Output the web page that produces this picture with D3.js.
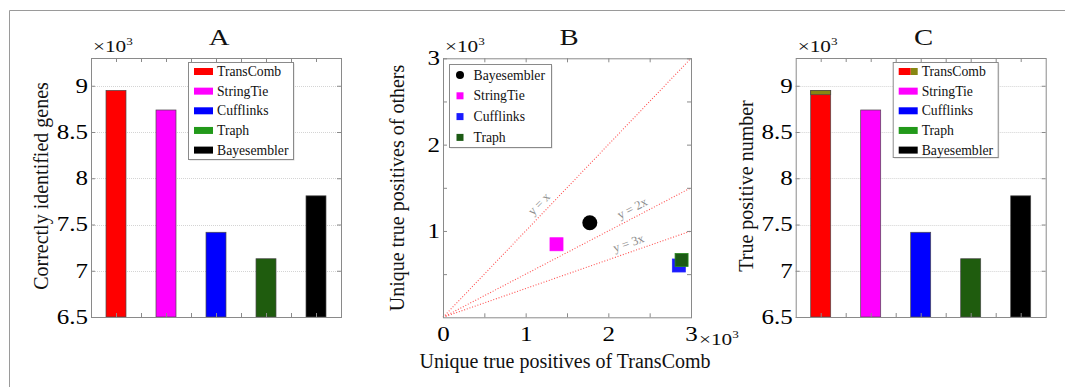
<!DOCTYPE html>
<html>
<head>
<meta charset="utf-8">
<script src="https://cdn.jsdelivr.net/npm/d3@7"></script>
<style>
  body { margin: 0; background: #fff; }
  svg { display: block; font-family: "Liberation Serif", "Times New Roman", serif; }
  svg text { font-family: "Liberation Serif", "Times New Roman", serif; }
</style>
</head>
<body>
<svg id="chart" width="1065" height="387"></svg>
<script>
// values in thousands (axes are x10^3)
var methods = ["TransComb", "StringTie", "Cufflinks", "Traph", "Bayesembler"];
var genesIdentified = [8.95, 8.738, 7.416, 7.13, 7.81];
var truePositives = [8.95, 8.738, 7.416, 7.13, 7.81];
var transCombBase = 8.903; // red part of the TransComb bar in C, rest is olive

var others = ["Bayesembler", "StringTie", "Cufflinks", "Traph"];
var uniqueTransComb = [1.776, 1.373, 2.853, 2.886];
var uniqueOthers = [1.096, 0.846, 0.60, 0.664];
var refRatios = [1, 2, 3];
var refLabels = ["y = x", "y = 2x", "y = 3x"];

var barYTicks = [6.5, 7, 7.5, 8, 8.5, 9];

var barColor = {TransComb: "#ff0000", StringTie: "#ff00ff", Cufflinks: "#0000ff", Traph: "#1f5c0e", Bayesembler: "#000000"};
var legColor = {TransComb: "#ff0000", StringTie: "#ff00ff", Cufflinks: "#0000ff", Traph: "#22991a", Bayesembler: "#000000"};
var ptColor = {Bayesembler: "#000000", StringTie: "#ff00ff", Cufflinks: "#1a1aff", Traph: "#1b5a14"};
var olive = "#878712";
var SX = 1.25; // the tick digits in the figure are wide

var svg = d3.select("#chart");

// outer frame (only top and left show)
svg.append("line").attr("x1", 9.5).attr("y1", 10.5).attr("x2", 1065).attr("y2", 10.5).attr("stroke", "#9a9a9a");
svg.append("line").attr("x1", 9.5).attr("y1", 10.5).attr("x2", 9.5).attr("y2", 387).attr("stroke", "#9a9a9a");

function wideText(g, x, y, size) {
  return g.append("text")
    .attr("transform", "translate(" + x + "," + y + ") scale(" + SX + ",1)")
    .attr("font-size", size);
}

function times10(g, x, y) {
  var t = wideText(g, x, y, 17).attr("fill", "#111");
  t.append("tspan").text("\u00d710");
  t.append("tspan").attr("font-size", 10.5).attr("dy", -7).text("3");
}

function stretchTicks(ax) {
  ax.selectAll(".tick text").each(function() {
    var t = d3.select(this);
    var x = +t.attr("x") || 0;
    var y = +t.attr("y") || 0;
    t.attr("x", null).attr("y", null)
     .attr("transform", "translate(" + x + "," + y + ") scale(" + SX + ",1)");
  });
}

function frameAxes(g, x, y, xt, yt, showX, showY) {
  var w = x.range()[1] - x.range()[0];
  var h = y.range()[0] - y.range()[1];
  var bot = g.append("g").attr("transform", "translate(0," + y.range()[0] + ")")
    .call(d3.axisBottom(x).tickValues(xt).tickSizeInner(-4).tickSizeOuter(0).tickPadding(9)
      .tickFormat(showX ? function(d) { return Number.isInteger(d) ? d : ""; } : function() { return ""; }));
  var top = g.append("g").attr("transform", "translate(0," + y.range()[1] + ")")
    .call(d3.axisTop(x).tickValues(xt).tickSizeInner(-4).tickSizeOuter(0).tickFormat(""));
  var left = g.append("g").attr("transform", "translate(" + x.range()[0] + ",0)")
    .call(d3.axisLeft(y).tickValues(yt).tickSizeInner(-4).tickSizeOuter(0).tickPadding(3)
      .tickFormat(showY));
  var right = g.append("g").attr("transform", "translate(" + x.range()[1] + ",0)")
    .call(d3.axisRight(y).tickValues(yt).tickSizeInner(-4).tickSizeOuter(0).tickFormat(""));
  [bot, top, left, right].forEach(function(a) {
    a.attr("font-family", null).attr("font-size", null);
    a.select(".domain").remove();
    a.selectAll(".tick line").attr("stroke", "#8a8a8a");
    a.selectAll(".tick text").attr("font-size", 20).attr("fill", "#000");
  });
  stretchTicks(bot);
  stretchTicks(left);
  g.append("rect")
    .attr("x", x.range()[0] + 0.5).attr("y", y.range()[1] + 0.5)
    .attr("width", w).attr("height", h)
    .attr("fill", "none").attr("stroke", "#8a8a8a");
}

function yLabel(g, x, yc, txt) {
  g.append("text")
    .attr("transform", "translate(" + x + "," + yc + ") rotate(-90)")
    .attr("text-anchor", "middle").attr("font-size", 20).attr("fill", "#111")
    .text(txt);
}

function title(g, x, txt) {
  wideText(g, x, 45, 23).attr("text-anchor", "middle").attr("fill", "#111").text(txt);
}

function barLegend(g, lx, ly, w, h, split) {
  var lg = g.append("g");
  lg.append("rect").attr("x", lx + 1.5).attr("y", ly + 1.5).attr("width", w).attr("height", h).attr("fill", "#d8d8d8");
  lg.append("rect").attr("x", lx + 0.5).attr("y", ly + 0.5).attr("width", w).attr("height", h)
    .attr("fill", "#fff").attr("stroke", "#8a8a8a");
  methods.forEach(function(m, i) {
    var cy = ly + 9.5 + i * 19.65;
    if (split && m === "TransComb") {
      lg.append("rect").attr("x", lx + 6).attr("y", cy - 3.5).attr("width", 12).attr("height", 7).attr("fill", legColor[m]);
      lg.append("rect").attr("x", lx + 18).attr("y", cy - 3.5).attr("width", 7).attr("height", 7).attr("fill", olive);
    } else {
      lg.append("rect").attr("x", lx + 6).attr("y", cy - 3.5).attr("width", 19).attr("height", 7).attr("fill", legColor[m]);
    }
    lg.append("text").attr("x", lx + 29).attr("y", cy + 4.5).attr("font-size", 13.7).attr("fill", "#111").text(m);
  });
}

function barPanel(left, top, vals, yl, ttl, split) {
  var g = svg.append("g");
  var x = d3.scaleLinear().domain([0.5, 5.5]).range([left, left + 250]);
  var y = d3.scaleLinear().domain([6.5, 9.3]).range([top + 259, top]);
  var grid = [7, 7.5, 8, 8.5, 9];
  g.selectAll(".grid").data(grid).enter().append("line")
    .attr("x1", x(0.5)).attr("x2", x(5.5))
    .attr("y1", function(d) { return Math.round(y(d)) + 0.5; })
    .attr("y2", function(d) { return Math.round(y(d)) + 0.5; })
    .attr("stroke", "#d4d4d4").attr("stroke-dasharray", "1,1");
  var bw = x(1.4) - x(1);
  g.selectAll(".bar").data(methods).enter().append("rect")
    .attr("x", function(d, i) { return x(i + 1) - bw / 2; })
    .attr("y", function(d, i) { return y(vals[i]); })
    .attr("width", bw)
    .attr("height", function(d, i) { return y(6.5) - y(vals[i]); })
    .attr("fill", function(d) { return barColor[d]; })
    .attr("stroke", "#4a4a4a").attr("stroke-width", 0.7);
  if (split) {
    g.append("rect")
      .attr("x", x(1) - bw / 2).attr("y", y(vals[0]))
      .attr("width", bw).attr("height", y(transCombBase) - y(vals[0]))
      .attr("fill", olive).attr("stroke", "#4a4a4a").attr("stroke-width", 0.7);
  }
  frameAxes(g, x, y, d3.range(1, 5.01, 0.5), barYTicks, false, function(d) { return d; });
  times10(g, left + 2, 52);
  yLabel(g, left - 43, 186, yl);
  title(g, left + 128, ttl);
  barLegend(g, left + 97, top + 4, 105, split ? 95 : 97, split);
}

// panel A
barPanel(91, 58, genesIdentified, "Correctly identified genes", "A", false);

// panel B
(function() {
  var g = svg.append("g");
  var x = d3.scaleLinear().domain([0, 3]).range([443, 691]);
  var y = d3.scaleLinear().domain([0, 3]).range([317.3, 58.3]);

  refRatios.forEach(function(r, i) {
    g.append("line")
      .attr("x1", x(0)).attr("y1", y(0))
      .attr("x2", x(3)).attr("y2", y(3 / r))
      .attr("stroke", "#ff5050").attr("stroke-width", 1.1).attr("stroke-dasharray", "1,1.8");
    var lxv = [1.24, 2.34, 2.28][i];
    var px = x(lxv), py = y(lxv / r);
    var ang = Math.atan2(y(3 / r) - y(0), x(3) - x(0)) * 180 / Math.PI;
    g.append("text")
      .attr("transform", "translate(" + px + "," + py + ") rotate(" + ang + ") translate(0,-5)")
      .attr("text-anchor", "middle").attr("font-size", 12.5).attr("fill", "#8c8c8c")
      .text(refLabels[i]);
  });

  frameAxes(g, x, y, d3.range(0, 3.01, 0.5), d3.range(0.5, 3.01, 0.5), true,
    function(d) { return Number.isInteger(d) ? d : ""; });

  others.forEach(function(m, i) {
    if (m === "Bayesembler") {
      g.append("circle").attr("cx", x(uniqueTransComb[i])).attr("cy", y(uniqueOthers[i]))
        .attr("r", 7.5).attr("fill", ptColor[m]);
    } else {
      g.append("rect")
        .attr("x", x(uniqueTransComb[i]) - 6.5).attr("y", y(uniqueOthers[i]) - 6.5)
        .attr("width", 13).attr("height", 13)
        .attr("fill", ptColor[m]).attr("stroke", d3.color(ptColor[m]).brighter(1.2)).attr("stroke-width", 0.8);
    }
  });

  // legend
  var lx = 449.5, ly = 64.5;
  g.append("rect").attr("x", lx + 1).attr("y", ly + 1).attr("width", 102).attr("height", 83).attr("fill", "#dcdcdc");
  g.append("rect").attr("x", lx).attr("y", ly).attr("width", 102).attr("height", 83)
    .attr("fill", "#fff").attr("stroke", "#8a8a8a");
  others.forEach(function(m, i) {
    var cy = ly + 10.5 + i * 20.8;
    if (m === "Bayesembler") {
      g.append("circle").attr("cx", lx + 10.5).attr("cy", cy).attr("r", 4).attr("fill", ptColor[m]);
    } else {
      g.append("rect").attr("x", lx + 7).attr("y", cy - 3.5).attr("width", 7).attr("height", 7).attr("fill", ptColor[m]);
    }
    g.append("text").attr("x", lx + 24).attr("y", cy + 4.5).attr("font-size", 13.7).attr("fill", "#111").text(m);
  });

  times10(g, 445, 52);
  times10(g, 699, 345);
  yLabel(g, 404, 188, "Unique true positives of others");
  g.append("text").attr("x", 565).attr("y", 368).attr("text-anchor", "middle")
    .attr("font-size", 20).attr("fill", "#111").text("Unique true positives of TransComb");
  title(g, 569, "B");
})();

// panel C
barPanel(795.7, 58, truePositives, "True positive number", "C", true);
</script>
</body>
</html>
